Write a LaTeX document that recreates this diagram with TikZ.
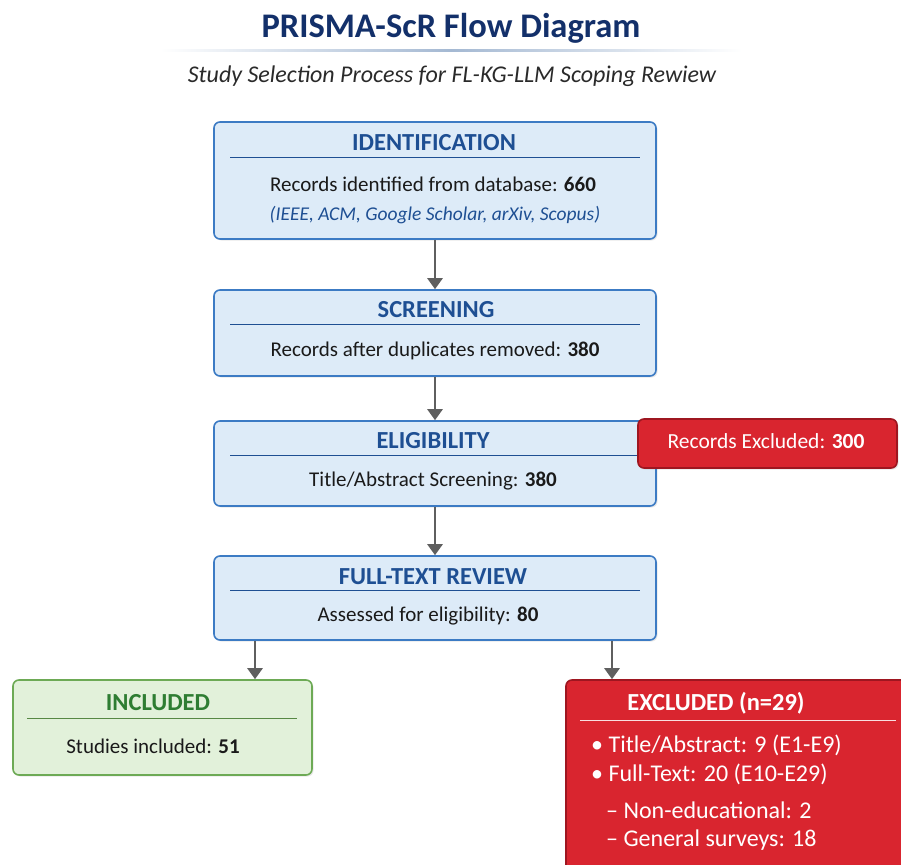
\documentclass[tikz,border=0pt]{standalone}
\usepackage{fontspec}
\setmainfont{Carlito}
\usetikzlibrary{arrows.meta,shadows}
\definecolor{navy}{HTML}{13306A}
\definecolor{hdrblue}{HTML}{1E4F93}
\definecolor{boxblue}{HTML}{DDEBF8}
\definecolor{brdblue}{HTML}{3C7BC4}
\definecolor{boxred}{HTML}{D9252F}
\definecolor{brdred}{HTML}{9E1620}
\definecolor{boxgreen}{HTML}{E2F1DA}
\definecolor{brdgreen}{HTML}{6DAA55}
\definecolor{hdrgreen}{HTML}{2E7D32}
\definecolor{arrgray}{HTML}{5F5F5F}
\definecolor{ruleblue}{HTML}{5A7FAE}
\definecolor{txt}{HTML}{1A1A1A}
\definecolor{subgray}{HTML}{2A2A2A}
\newcommand{\exfont}{\fontsize{21.5}{25}\selectfont}
\newcommand{\exlfont}{\fontsize{24}{28}\selectfont}
\begin{document}
\begin{tikzpicture}[x=1pt,y=-1pt,
  box/.style={draw, line width=1.6pt, rounded corners=6pt, drop shadow={shadow xshift=1.5pt, shadow yshift=-1.5pt, opacity=0.18}},
  bluebox/.style={box, fill=boxblue, draw=brdblue},
  redbox/.style={box, fill=boxred, draw=brdred},
  greenbox/.style={box, fill=boxgreen, draw=brdgreen},
  hdr/.style={font=\fontsize{24.5}{28}\selectfont\bfseries, text=hdrblue},
  body/.style={font=\fontsize{21}{25}\selectfont, text=txt},
  wbody/.style={font=\exfont, text=white},
  exline/.style={font=\exlfont, text=white, anchor=west, inner sep=0pt},
  arr/.style={draw=arrgray, line width=2.6pt, -{Triangle[width=15pt,length=11pt]}},
]
\useasboundingbox (0,0) rectangle (901,864);
\clip (0,0) rectangle (901,864);
\fill[white] (0,0) rectangle (901,864);

% title
\node[font=\fontsize{34.5}{38}\selectfont\bfseries, text=navy] (title) at (451,28) {PRISMA-ScR Flow Diagram};
\shade[left color=white, right color=white, middle color=ruleblue!55] (160,49.2) rectangle (742,51.2);
\node[font=\fontsize{24}{28}\selectfont\itshape, text=subgray] (sub) at (452,76) {Study Selection Process for FL-KG-LLM Scoping Rewiew};

% identification
\node[bluebox, minimum width=442pt, minimum height=117pt] (ident) at (435,180.5) {};
\node[hdr] (identh) at (434,143) {IDENTIFICATION};
\draw[draw=hdrblue, line width=1pt] (230,157) -- (640,157);
\node[body] (identt) at (433,184) {Records identified from database: \textbf{660}};
\node[font=\fontsize{19.5}{23}\selectfont\itshape, text=hdrblue] (idents) at (435,215) {(IEEE, ACM, Google Scholar, arXiv, Scopus)};

% screening
\node[bluebox, minimum width=442pt, minimum height=86pt] (screen) at (435,333) {};
\node[hdr] (screenh) at (436,310) {SCREENING};
\draw[draw=hdrblue, line width=1pt] (230,324) -- (640,324);
\node[body] (screent) at (435,351) {Records after duplicates removed: \textbf{380}};

% eligibility
\node[bluebox, minimum width=442pt, minimum height=85pt] (elig) at (435,463.5) {};
\node[hdr] (eligh) at (433,441) {ELIGIBILITY};
\draw[draw=hdrblue, line width=1pt] (230,455) -- (640,455);
\node[body] (eligt) at (433,481) {Title/Abstract Screening: \textbf{380}};

% records excluded
\node[redbox, minimum width=259pt, minimum height=49pt] (recex) at (767.5,443.5) {};
\node[wbody] (recext) at (766,441) {Records Excluded: \textbf{300}};

% full text
\node[bluebox, minimum width=442pt, minimum height=84pt] (full) at (435,598) {};
\node[hdr] (fullh) at (433,577) {FULL-TEXT REVIEW};
\draw[draw=hdrblue, line width=1pt] (230,590) -- (640,590);
\node[body] (fullt) at (428,616) {Assessed for eligibility: \textbf{80}};

% included
\node[greenbox, minimum width=299pt, minimum height=95pt] (incl) at (162.5,727.5) {};
\node[hdr, text=hdrgreen] (inclh) at (158,703) {INCLUDED};
\draw[draw=brdgreen!80!black, line width=1pt] (27,718) -- (297,718);
\node[body] (inclt) at (153,746) {Studies included: \textbf{51}};

% excluded
\node[redbox, minimum width=350pt, minimum height=200pt] (excl) at (741,780) {};
\node[hdr, text=white] (exclh) at (716,703) {EXCLUDED (n=29)};
\draw[draw=white!85!boxred, line width=1pt] (580,720) -- (896,720);
\node[exline] (e1) at (591,745) {\textbullet\ Title/Abstract: 9 (E1-E9)};
\node[exline] (e2) at (591,774) {\textbullet\ Full-Text: 20 (E10-E29)};
\node[exline] (e3) at (606,810) {– Non-educational: 2};
\node[exline] (e4) at (606,840) {– General surveys: 18};

% arrows
\coordinate (a1) at (255,0);
\coordinate (a2) at (612,0);
\draw[arr] (ident.south) -- (screen.north);
\draw[arr] (screen.south) -- (elig.north);
\draw[arr] (elig.south) -- (full.north);
\draw[arr] (full.south -| a1) -- (incl.north -| a1);
\draw[arr] (full.south -| a2) -- (excl.north -| a2);
\end{tikzpicture}
\end{document}
